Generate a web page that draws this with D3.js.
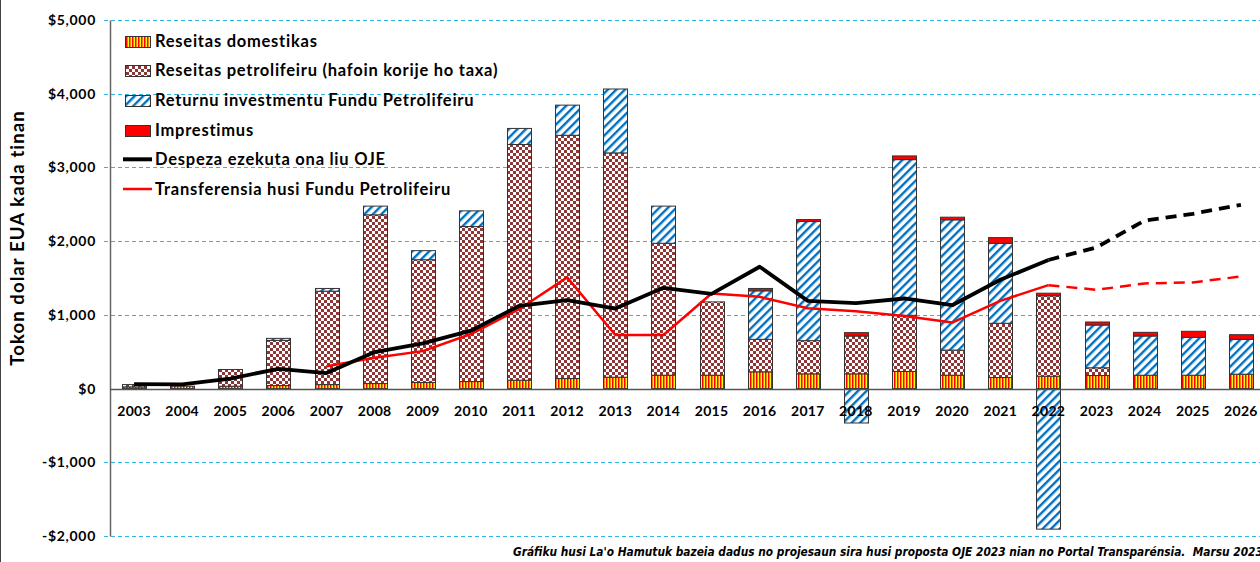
<!DOCTYPE html>
<html>
<head>
<meta charset="utf-8">
<script src="https://cdn.jsdelivr.net/npm/d3@7"></script>
<style>
  body { margin: 0; background: #fff; }
  svg { display: block; font-family: Lato, "Open Sans", sans-serif; }
</style>
</head>
<body>
<div id="chart"></div>
<script>
// values in millions of US$
var years = [2003, 2004, 2005, 2006, 2007, 2008, 2009, 2010, 2011, 2012, 2013, 2014,
  2015, 2016, 2017, 2018, 2019, 2020, 2021, 2022, 2023, 2024, 2025, 2026];
var domestic = [23, 32, 32, 41, 54, 68, 82, 95, 113, 136, 154, 181,
  181, 227, 200, 200, 232, 181, 150, 168, 177, 181, 181, 195];
var petroleum = [31, 0, 227, 613, 1267, 2289, 1666, 2103, 3198, 3300, 3043, 1790,
  995, 441, 450, 513, 762, 341, 736, 1090, 105, 0, 0, 0];
var fundReturn = [0, 0, 0, 27, 37, 118, 123, 213, 218, 409, 867, 504,
  -10, 658, 1616, -467, 2112, 1767, 1085, -1907, 580, 532, 514, 473];
var loans = [0, 0, 0, 0, 0, 0, 0, 0, 0, 0, 0, 0,
  0, 32, 27, 46, 50, 36, 77, 36, 41, 50, 82, 63];
var spending = [60, 58, 136, 268, 210, 495, 613, 785, 1121, 1199, 1086, 1367,
  1285, 1653, 1190, 1158, 1222, 1131, 1476, 1744, 1916, 2280, 2371, 2493];
var transfers = [null, null, null, null, 304, 418, 508, 740, 1076, 1508, 726, 726,
  1290, 1244, 1090, 1048, 985, 895, 1190, 1403, 1340, 1426, 1440, 1521];
var firstProjected = 2022; // lines are dashed from here on
var yTicks = [-2000, -1000, 0, 1000, 2000, 3000, 4000, 5000];

var legendItems = [
  { label: "Reseitas domestikas", fill: "url(#pDom)" },
  { label: "Reseitas petrolifeiru (hafoin korije ho taxa)", fill: "url(#pPet)" },
  { label: "Returnu investmentu Fundu Petrolifeiru", fill: "url(#pRet)" },
  { label: "Imprestimus", fill: "#ff0000" },
  { label: "Despeza ezekuta ona liu OJE", line: "#000", w: 4 },
  { label: "Transferensia husi Fundu Petrolifeiru", line: "#ff0000", w: 2.5 }
];

var W = 1260, H = 562;
var plotLeft = 110, plotTop = 20, plotBottom = 536;

var svg = d3.select("#chart").append("svg")
  .attr("width", W).attr("height", H);

// patterns
var defs = svg.append("defs");
var pd = defs.append("pattern").attr("id", "pDom")
  .attr("patternUnits", "userSpaceOnUse").attr("width", 3).attr("height", 3);
pd.append("rect").attr("width", 3).attr("height", 3).attr("fill", "#ffff00");
pd.append("rect").attr("width", 1.5).attr("height", 3).attr("fill", "#ff0000");

var pp = defs.append("pattern").attr("id", "pPet")
  .attr("patternUnits", "userSpaceOnUse").attr("width", 6).attr("height", 6);
pp.append("rect").attr("width", 6).attr("height", 6).attr("fill", "#fff");
pp.append("rect").attr("width", 3).attr("height", 3).attr("fill", "#8e3535");
pp.append("rect").attr("x", 3).attr("y", 3).attr("width", 3).attr("height", 3).attr("fill", "#8e3535");

var pr = defs.append("pattern").attr("id", "pRet")
  .attr("patternUnits", "userSpaceOnUse").attr("width", 6).attr("height", 6)
  .attr("patternTransform", "rotate(45)");
pr.append("rect").attr("width", 6).attr("height", 6).attr("fill", "#fff");
pr.append("rect").attr("width", 2.4).attr("height", 6).attr("fill", "#0070c0");

var x = d3.scaleBand().domain(years).range([plotLeft, plotLeft + 24 * 48.125])
  .paddingInner(0.5).paddingOuter(0.25);
var y = d3.scaleLinear().domain([-2000, 5000]).range([plotBottom, plotTop]);
function cx(yr) { return x(yr) + x.bandwidth() / 2; }

// frame line on the far left
svg.append("line").attr("x1", 0.5).attr("x2", 0.5).attr("y1", 0).attr("y2", H)
  .attr("stroke", "#444");

// gridlines
svg.append("g").selectAll("line").data(yTicks.filter(function (d) { return d != 0; }))
  .enter().append("line")
  .attr("x1", plotLeft - 6).attr("x2", W)
  .attr("y1", function (d) { return Math.round(y(d)) + 0.5; })
  .attr("y2", function (d) { return Math.round(y(d)) + 0.5; })
  .attr("stroke", "#2fb5e8").attr("stroke-width", 1).attr("stroke-dasharray", "4,3");

// y axis
var yAxis = svg.append("g").attr("transform", "translate(" + plotLeft + ",0)")
  .call(d3.axisLeft(y).tickValues(yTicks).tickSize(0).tickPadding(14)
    .tickFormat(function (d) { return (d < 0 ? "-$" : "$") + d3.format(",")(Math.abs(d)); }));
yAxis.select(".domain").attr("stroke", "#666").attr("stroke-width", 1.5);
yAxis.selectAll("text").attr("font-size", 14).attr("font-weight", "bold")
  .attr("letter-spacing", 0.7)
  .attr("font-family", "Lato, sans-serif").attr("fill", "#000");

svg.append("text").attr("transform", "translate(24,238) rotate(-90)")
  .attr("text-anchor", "middle").attr("font-size", 18.5).attr("font-weight", "bold")
  .attr("letter-spacing", 1.1)
  .text("Tokon dolar EUA kada tinan");

// stack the bar segments
var segs = [];
years.forEach(function (yr, i) {
  var pos = 0;
  [["url(#pDom)", domestic[i]], ["url(#pPet)", petroleum[i]],
   ["url(#pRet)", fundReturn[i] > 0 ? fundReturn[i] : 0], ["#ff0000", loans[i]]]
    .forEach(function (s) {
      if (s[1] > 0) {
        segs.push({ year: yr, fill: s[0], v0: pos, v1: pos + s[1] });
        pos += s[1];
      }
    });
  if (fundReturn[i] < 0) segs.push({ year: yr, fill: "url(#pRet)", v0: fundReturn[i], v1: 0 });
});

svg.append("g").selectAll("rect").data(segs).enter().append("rect")
  .attr("x", function (d) { return Math.round(x(d.year)) + 0.5; })
  .attr("width", Math.round(x.bandwidth()))
  .attr("y", function (d) { return y(d.v1); })
  .attr("height", function (d) { return y(d.v0) - y(d.v1); })
  .attr("fill", function (d) { return d.fill; })
  .attr("stroke", "#333").attr("stroke-width", 1);

// zero line
svg.append("line").attr("x1", plotLeft).attr("x2", W)
  .attr("y1", Math.round(y(0)) + 0.5).attr("y2", Math.round(y(0)) + 0.5)
  .attr("stroke", "#555").attr("stroke-width", 1.5);

// x labels
svg.append("g").selectAll("text").data(years).enter().append("text")
  .attr("x", function (d) { return cx(d); }).attr("y", 416)
  .attr("text-anchor", "middle").attr("font-size", 14).attr("font-weight", "bold")
  .attr("letter-spacing", 0.3)
  .text(function (d) { return d; });

// lines: solid for actuals, dashed for projections
var line = d3.line()
  .defined(function (d) { return d.v != null; })
  .x(function (d) { return cx(d.year); })
  .y(function (d) { return y(d.v); });

function drawLine(values, color, width) {
  var pts = years.map(function (yr, i) { return { year: yr, v: values[i] }; });
  var actual = pts.filter(function (d) { return d.year <= firstProjected; });
  var proj = pts.filter(function (d) { return d.year >= firstProjected; });
  svg.append("path").attr("d", line(actual)).attr("fill", "none")
    .attr("stroke", color).attr("stroke-width", width).attr("stroke-linejoin", "round");
  svg.append("path").attr("d", line(proj)).attr("fill", "none")
    .attr("stroke", color).attr("stroke-width", width).attr("stroke-dasharray", "11,7");
}
drawLine(transfers, "#ff0000", 2.5);
drawLine(spending, "#000", 3.8);

// legend
var lg = svg.append("g");
legendItems.forEach(function (d, i) {
  var cy = 40.5 + i * 29.7;
  if (d.fill) {
    lg.append("rect").attr("x", 125.5).attr("y", Math.round(cy - 5) + 0.5)
      .attr("width", 25).attr("height", 11).attr("fill", d.fill)
      .attr("stroke", "#333").attr("stroke-width", 1);
  } else {
    lg.append("line").attr("x1", 123).attr("x2", 152).attr("y1", cy).attr("y2", cy)
      .attr("stroke", d.line).attr("stroke-width", d.w);
  }
  lg.append("text").attr("x", 155).attr("y", cy + 6)
    .attr("font-size", 16.5).attr("font-weight", "bold").attr("letter-spacing", 0.75)
    .text(d.label);
});

// source note (runs off the right edge, as in the original)
svg.append("text").attr("x", 513).attr("y", 556)
  .attr("font-family", "'Liberation Sans Narrow', 'DejaVu Sans Condensed', sans-serif")
  .attr("font-size", 11.8).attr("font-weight", "bold").attr("font-style", "italic")
  .text("Gráfiku husi La'o Hamutuk bazeia dadus no projesaun sira husi proposta OJE 2023 nian no Portal Transparénsia.\u00a0 Marsu 2023");
</script>
</body>
</html>
